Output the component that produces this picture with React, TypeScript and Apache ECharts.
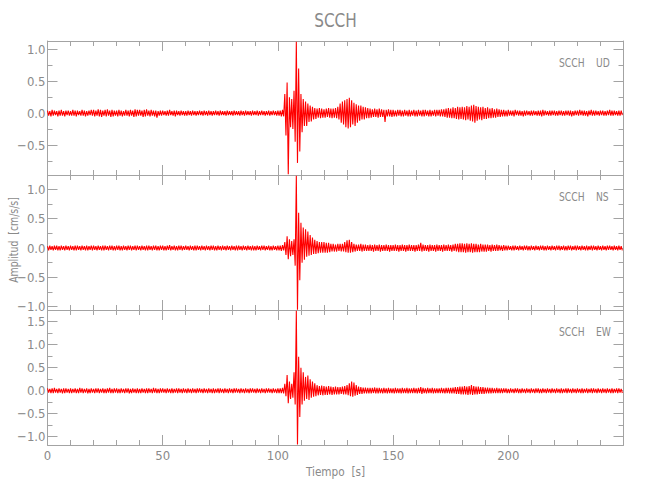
import React, { useEffect, useRef } from "react";
import * as echarts from "echarts";

// Seismogram amplitudes [cm/s/s], read from the picture as per-second envelopes:
// for second i, the largest (Max) and smallest (Min) value of the trace in that second.
const udMax = [
  0.04,0.03,0.05,0.04,0.03,0.04,0.05,0.03,0.04,0.04, 0.03,0.05,0.04,0.04,0.03,0.05,0.04,0.03,0.04,0.05,
  0.05,0.04,0.06,0.05,0.04,0.05,0.06,0.04,0.05,0.04, 0.04,0.05,0.04,0.03,0.05,0.04,0.05,0.04,0.06,0.05,
  0.05,0.04,0.05,0.06,0.04,0.05,0.04,0.04,0.03,0.04, 0.04,0.03,0.04,0.05,0.03,0.04,0.04,0.03,0.04,0.03,
  0.03,0.04,0.03,0.04,0.03,0.03,0.04,0.03,0.04,0.03, 0.04,0.03,0.03,0.04,0.03,0.04,0.03,0.03,0.04,0.03,
  0.03,0.04,0.03,0.03,0.04,0.03,0.04,0.03,0.03,0.04, 0.03,0.04,0.03,0.04,0.03,0.03,0.04,0.03,0.04,0.03,
  0.04,0.04,0.05,0.30,0.48,0.25,0.22,0.35,1.12,0.70, 0.30,0.22,0.18,0.15,0.12,0.10,0.08,0.07,0.08,0.07,
  0.06,0.07,0.08,0.07,0.07,0.08,0.10,0.15,0.18,0.20, 0.22,0.24,0.20,0.16,0.14,0.12,0.12,0.10,0.09,0.08,
  0.07,0.06,0.07,0.06,0.07,0.06,0.05,0.05,0.06,0.05, 0.05,0.04,0.05,0.05,0.04,0.05,0.04,0.05,0.04,0.05,
  0.04,0.05,0.04,0.05,0.05,0.04,0.05,0.04,0.05,0.05, 0.05,0.06,0.06,0.07,0.08,0.07,0.09,0.08,0.10,0.09,
  0.10,0.09,0.11,0.10,0.12,0.13,0.11,0.10,0.09,0.10, 0.08,0.09,0.07,0.08,0.06,0.07,0.06,0.05,0.05,0.04,
  0.05,0.04,0.04,0.05,0.04,0.04,0.03,0.04,0.04,0.03, 0.04,0.04,0.03,0.04,0.04,0.05,0.04,0.03,0.04,0.04,
  0.04,0.03,0.04,0.04,0.03,0.04,0.04,0.04,0.03,0.04, 0.04,0.05,0.04,0.04,0.03,0.04,0.05,0.04,0.04,0.03,
  0.04,0.04,0.03,0.04,0.05,0.04,0.04,0.03,0.04,0.04,
];
const udMin = [
  -0.04,-0.05,-0.04,-0.03,-0.05,-0.04,-0.04,-0.05,-0.03,-0.04, -0.04,-0.04,-0.05,-0.03,-0.04,-0.04,-0.05,-0.04,-0.03,-0.04,
  -0.05,-0.04,-0.05,-0.06,-0.04,-0.05,-0.04,-0.06,-0.05,-0.04, -0.05,-0.04,-0.05,-0.04,-0.04,-0.05,-0.04,-0.06,-0.05,-0.04,
  -0.04,-0.06,-0.05,-0.04,-0.05,-0.04,-0.05,-0.07,-0.04,-0.04, -0.03,-0.04,-0.04,-0.03,-0.04,-0.05,-0.03,-0.04,-0.03,-0.04,
  -0.04,-0.03,-0.04,-0.03,-0.04,-0.03,-0.03,-0.04,-0.03,-0.04, -0.03,-0.04,-0.03,-0.03,-0.04,-0.03,-0.03,-0.04,-0.03,-0.03,
  -0.04,-0.03,-0.03,-0.04,-0.03,-0.04,-0.03,-0.03,-0.04,-0.03, -0.03,-0.04,-0.03,-0.03,-0.04,-0.03,-0.04,-0.03,-0.03,-0.04,
  -0.04,-0.05,-0.05,-0.35,-0.96,-0.22,-0.25,-0.45,-0.78,-0.60, -0.30,-0.20,-0.20,-0.14,-0.13,-0.10,-0.09,-0.07,-0.08,-0.07,
  -0.07,-0.06,-0.07,-0.08,-0.07,-0.08,-0.10,-0.15,-0.18,-0.22, -0.24,-0.22,-0.18,-0.20,-0.15,-0.12,-0.10,-0.10,-0.08,-0.08,
  -0.07,-0.06,-0.06,-0.07,-0.06,-0.06,-0.14,-0.05,-0.05,-0.06, -0.05,-0.05,-0.04,-0.05,-0.05,-0.04,-0.05,-0.05,-0.04,-0.05,
  -0.05,-0.04,-0.05,-0.05,-0.04,-0.05,-0.05,-0.04,-0.05,-0.04, -0.05,-0.05,-0.06,-0.07,-0.07,-0.08,-0.08,-0.09,-0.10,-0.09,
  -0.10,-0.11,-0.10,-0.12,-0.13,-0.15,-0.12,-0.10,-0.11,-0.09, -0.09,-0.08,-0.08,-0.07,-0.07,-0.06,-0.06,-0.05,-0.05,-0.05,
  -0.04,-0.04,-0.05,-0.03,-0.04,-0.04,-0.05,-0.04,-0.03,-0.04, -0.04,-0.03,-0.04,-0.04,-0.05,-0.04,-0.03,-0.04,-0.04,-0.03,
  -0.04,-0.04,-0.03,-0.04,-0.04,-0.03,-0.04,-0.05,-0.04,-0.03, -0.04,-0.03,-0.04,-0.04,-0.05,-0.03,-0.04,-0.04,-0.03,-0.04,
  -0.03,-0.04,-0.04,-0.03,-0.04,-0.04,-0.03,-0.04,-0.04,-0.03,
];
const nsMax = [
  0.03,0.04,0.03,0.04,0.04,0.03,0.04,0.03,0.04,0.03, 0.04,0.03,0.04,0.04,0.03,0.04,0.03,0.04,0.03,0.04,
  0.04,0.03,0.04,0.03,0.04,0.04,0.03,0.04,0.04,0.03, 0.04,0.04,0.03,0.04,0.03,0.04,0.04,0.03,0.04,0.04,
  0.03,0.04,0.03,0.04,0.04,0.03,0.04,0.04,0.03,0.04, 0.04,0.03,0.04,0.05,0.03,0.04,0.03,0.04,0.04,0.03,
  0.04,0.03,0.04,0.03,0.04,0.04,0.03,0.04,0.03,0.04, 0.03,0.04,0.04,0.03,0.04,0.03,0.04,0.03,0.04,0.03,
  0.04,0.03,0.04,0.04,0.03,0.04,0.03,0.04,0.03,0.04, 0.03,0.04,0.03,0.04,0.04,0.03,0.04,0.03,0.04,0.03,
  0.04,0.04,0.05,0.10,0.20,0.15,0.12,0.15,1.23,0.60, 0.43,0.35,0.32,0.28,0.22,0.18,0.14,0.12,0.10,0.10,
  0.10,0.09,0.09,0.07,0.07,0.06,0.07,0.07,0.07,0.10, 0.13,0.14,0.10,0.07,0.06,0.06,0.07,0.06,0.06,0.05,
  0.06,0.05,0.06,0.05,0.06,0.05,0.05,0.06,0.05,0.05, 0.05,0.06,0.05,0.05,0.06,0.05,0.05,0.06,0.05,0.05,
  0.05,0.06,0.09,0.06,0.05,0.05,0.06,0.05,0.05,0.06, 0.05,0.05,0.06,0.05,0.06,0.05,0.06,0.07,0.07,0.08,
  0.08,0.07,0.08,0.07,0.08,0.07,0.07,0.06,0.07,0.06, 0.06,0.06,0.05,0.06,0.05,0.06,0.05,0.04,0.05,0.04,
  0.04,0.03,0.04,0.04,0.03,0.04,0.03,0.04,0.04,0.03, 0.04,0.03,0.04,0.03,0.04,0.04,0.03,0.04,0.03,0.04,
  0.03,0.04,0.04,0.03,0.04,0.03,0.04,0.04,0.03,0.04, 0.04,0.03,0.04,0.03,0.04,0.03,0.04,0.04,0.03,0.04,
  0.03,0.04,0.03,0.04,0.04,0.03,0.04,0.03,0.04,0.03,
];
const nsMin = [
  -0.04,-0.03,-0.04,-0.03,-0.04,-0.04,-0.03,-0.04,-0.03,-0.04, -0.03,-0.04,-0.04,-0.03,-0.04,-0.03,-0.04,-0.04,-0.03,-0.04,
  -0.03,-0.04,-0.03,-0.04,-0.04,-0.03,-0.04,-0.03,-0.04,-0.04, -0.03,-0.04,-0.04,-0.03,-0.04,-0.03,-0.04,-0.03,-0.04,-0.03,
  -0.04,-0.03,-0.04,-0.04,-0.03,-0.04,-0.03,-0.04,-0.04,-0.03, -0.04,-0.04,-0.03,-0.04,-0.03,-0.04,-0.04,-0.03,-0.04,-0.03,
  -0.03,-0.04,-0.03,-0.04,-0.04,-0.03,-0.04,-0.03,-0.04,-0.03, -0.04,-0.03,-0.04,-0.04,-0.03,-0.04,-0.03,-0.04,-0.03,-0.04,
  -0.03,-0.04,-0.04,-0.03,-0.04,-0.03,-0.04,-0.03,-0.04,-0.04, -0.04,-0.03,-0.04,-0.03,-0.04,-0.03,-0.04,-0.04,-0.03,-0.04,
  -0.04,-0.05,-0.04,-0.12,-0.19,-0.14,-0.12,-0.30,-1.05,-0.55, -0.25,-0.20,-0.15,-0.13,-0.12,-0.10,-0.10,-0.09,-0.08,-0.08,
  -0.08,-0.08,-0.07,-0.06,-0.06,-0.06,-0.05,-0.06,-0.06,-0.07, -0.08,-0.08,-0.07,-0.06,-0.05,-0.05,-0.06,-0.05,-0.05,-0.05,
  -0.05,-0.06,-0.05,-0.05,-0.06,-0.05,-0.05,-0.05,-0.06,-0.05, -0.05,-0.05,-0.06,-0.05,-0.05,-0.06,-0.05,-0.05,-0.05,-0.06,
  -0.05,-0.05,-0.06,-0.05,-0.05,-0.06,-0.05,-0.05,-0.06,-0.05, -0.05,-0.06,-0.05,-0.05,-0.05,-0.06,-0.05,-0.06,-0.07,-0.07,
  -0.07,-0.08,-0.07,-0.07,-0.08,-0.07,-0.07,-0.07,-0.06,-0.06, -0.06,-0.05,-0.06,-0.05,-0.05,-0.05,-0.04,-0.05,-0.04,-0.04,
  -0.03,-0.04,-0.04,-0.03,-0.04,-0.03,-0.04,-0.03,-0.04,-0.04, -0.03,-0.04,-0.03,-0.04,-0.03,-0.04,-0.04,-0.03,-0.04,-0.03,
  -0.04,-0.03,-0.04,-0.03,-0.04,-0.04,-0.03,-0.04,-0.03,-0.04, -0.03,-0.04,-0.03,-0.04,-0.04,-0.03,-0.04,-0.03,-0.04,-0.03,
  -0.04,-0.03,-0.04,-0.03,-0.03,-0.04,-0.03,-0.04,-0.03,-0.04,
];
const ewMax = [
  0.05,0.04,0.05,0.06,0.04,0.05,0.04,0.05,0.05,0.04, 0.05,0.04,0.05,0.04,0.06,0.05,0.04,0.05,0.04,0.05,
  0.04,0.05,0.05,0.04,0.05,0.04,0.05,0.06,0.04,0.05, 0.05,0.04,0.05,0.04,0.05,0.05,0.04,0.05,0.04,0.05,
  0.04,0.05,0.04,0.05,0.05,0.04,0.06,0.05,0.04,0.05, 0.05,0.04,0.05,0.04,0.05,0.04,0.05,0.05,0.04,0.05,
  0.04,0.05,0.04,0.05,0.04,0.05,0.05,0.04,0.05,0.04, 0.05,0.04,0.05,0.04,0.05,0.05,0.04,0.05,0.04,0.05,
  0.04,0.05,0.05,0.04,0.05,0.04,0.05,0.04,0.05,0.05, 0.04,0.05,0.04,0.05,0.04,0.05,0.05,0.04,0.05,0.04,
  0.05,0.05,0.06,0.15,0.34,0.20,0.15,0.40,1.74,0.74, 0.50,0.40,0.30,0.33,0.25,0.20,0.16,0.12,0.10,0.11,
  0.10,0.09,0.10,0.09,0.08,0.09,0.08,0.08,0.09,0.10, 0.12,0.16,0.20,0.18,0.12,0.09,0.08,0.07,0.07,0.06,
  0.06,0.06,0.07,0.06,0.06,0.05,0.06,0.05,0.06,0.05, 0.05,0.06,0.05,0.05,0.06,0.05,0.06,0.05,0.05,0.06,
  0.05,0.06,0.08,0.06,0.05,0.06,0.05,0.06,0.05,0.05, 0.05,0.06,0.05,0.06,0.06,0.06,0.07,0.08,0.08,0.09,
  0.09,0.10,0.09,0.10,0.12,0.10,0.09,0.09,0.08,0.08, 0.07,0.07,0.06,0.06,0.05,0.06,0.05,0.05,0.05,0.05,
  0.04,0.05,0.04,0.05,0.05,0.04,0.05,0.04,0.05,0.04, 0.05,0.04,0.05,0.05,0.04,0.05,0.04,0.05,0.04,0.05,
  0.04,0.05,0.04,0.05,0.04,0.05,0.05,0.04,0.05,0.04, 0.05,0.04,0.05,0.04,0.05,0.04,0.05,0.05,0.04,0.05,
  0.04,0.05,0.04,0.05,0.04,0.05,0.04,0.05,0.05,0.04,
];
const ewMin = [
  -0.04,-0.05,-0.05,-0.04,-0.05,-0.04,-0.06,-0.05,-0.04,-0.05, -0.05,-0.04,-0.05,-0.05,-0.04,-0.05,-0.04,-0.06,-0.05,-0.04,
  -0.05,-0.04,-0.05,-0.04,-0.05,-0.05,-0.04,-0.05,-0.05,-0.04, -0.05,-0.05,-0.04,-0.05,-0.04,-0.06,-0.05,-0.04,-0.05,-0.05,
  -0.05,-0.04,-0.05,-0.05,-0.04,-0.05,-0.04,-0.05,-0.05,-0.04, -0.04,-0.05,-0.04,-0.05,-0.05,-0.04,-0.05,-0.04,-0.05,-0.04,
  -0.05,-0.04,-0.05,-0.04,-0.05,-0.04,-0.04,-0.05,-0.04,-0.05, -0.04,-0.05,-0.05,-0.04,-0.05,-0.04,-0.05,-0.04,-0.05,-0.04,
  -0.05,-0.04,-0.04,-0.05,-0.04,-0.05,-0.04,-0.05,-0.04,-0.04, -0.05,-0.04,-0.05,-0.04,-0.05,-0.04,-0.04,-0.05,-0.04,-0.05,
  -0.05,-0.05,-0.06,-0.12,-0.27,-0.18,-0.15,-0.30,-1.17,-0.57, -0.30,-0.22,-0.18,-0.20,-0.15,-0.13,-0.12,-0.10,-0.09,-0.10,
  -0.09,-0.09,-0.08,-0.09,-0.08,-0.08,-0.08,-0.07,-0.08,-0.08, -0.10,-0.12,-0.13,-0.11,-0.09,-0.07,-0.07,-0.06,-0.06,-0.06,
  -0.06,-0.05,-0.06,-0.06,-0.05,-0.06,-0.05,-0.06,-0.05,-0.05, -0.06,-0.05,-0.05,-0.06,-0.05,-0.05,-0.06,-0.05,-0.05,-0.05,
  -0.06,-0.05,-0.07,-0.05,-0.06,-0.05,-0.05,-0.06,-0.05,-0.05, -0.05,-0.05,-0.06,-0.05,-0.06,-0.06,-0.06,-0.07,-0.07,-0.08,
  -0.08,-0.08,-0.09,-0.08,-0.09,-0.08,-0.08,-0.07,-0.07,-0.07, -0.06,-0.06,-0.06,-0.05,-0.05,-0.05,-0.05,-0.05,-0.04,-0.05,
  -0.05,-0.04,-0.05,-0.04,-0.05,-0.05,-0.04,-0.05,-0.04,-0.05, -0.04,-0.05,-0.04,-0.05,-0.05,-0.04,-0.05,-0.04,-0.05,-0.04,
  -0.05,-0.04,-0.05,-0.05,-0.04,-0.05,-0.04,-0.05,-0.04,-0.05, -0.04,-0.05,-0.05,-0.04,-0.05,-0.04,-0.05,-0.04,-0.05,-0.04,
  -0.05,-0.04,-0.05,-0.04,-0.05,-0.05,-0.04,-0.05,-0.04,-0.05,
];

const stationName = "SCCH";
const componentNames = ["UD", "NS", "EW"];
const yRanges: [number, number][] = [[-0.97, 1.13], [-1.056, 1.244], [-1.18, 1.754]];
const yMajorTicks = [[-0.5, 0, 0.5, 1.0], [-1.0, -0.5, 0, 0.5, 1.0], [-1.0, -0.5, 0, 0.5, 1.0, 1.5]];
const yMinorTicks = [[-0.75, -0.25, 0.25, 0.75], [-0.75, -0.25, 0.25, 0.75], [-0.75, -0.25, 0.25, 0.75, 1.25]];
const xTicks = [0, 50, 100, 150, 200];
const timeRange: [number, number] = [0, 250];

const FONT = "'Liberation Sans Narrow', 'DejaVu Sans Condensed', 'Liberation Sans', sans-serif";
const AXIS = "#a3a3a3";
const TEXT = "#8a8a8a";

function App() {
  const ref = useRef<HTMLDivElement>(null);
  useEffect(() => {
    if (!ref.current) return;
    const chart = echarts.init(ref.current, undefined, { renderer: "svg" });
    const traces = [[udMax, udMin], [nsMax, nsMin], [ewMax, ewMin]];
    const grids = [
      { left: 47.5, top: 41, width: 576, height: 134 },
      { left: 47.5, top: 175, width: 576, height: 135 },
      { left: 47.5, top: 310, width: 576, height: 135 },
    ];
    const xAxes: any[] = [];
    const yAxes: any[] = [];
    const series: any[] = [];
    grids.forEach((g, p) => {
      ["bottom", "top"].forEach((pos) => {
        xAxes.push({
          type: "value", gridIndex: p, position: pos, min: timeRange[0], max: timeRange[1], interval: 50,
          axisLine: { show: true, onZero: false, lineStyle: { color: AXIS, width: 1 } },
          axisTick: { show: true, inside: true, length: 10, lineStyle: { color: AXIS } },
          minorTick: { show: true, splitNumber: 5, length: 5, lineStyle: { color: AXIS } },
          splitLine: { show: false },
          axisLabel: {
            show: p === 2 && pos === "bottom", showMaxLabel: false, margin: 4,
            color: TEXT, fontFamily: FONT, fontSize: 13,
            formatter: (v: number) => (xTicks.includes(v) ? String(v) : ""),
          },
        });
      });
      const [mn, mx] = yRanges[p];
      ["left", "right"].forEach((pos) => {
        yAxes.push({
          type: "value", gridIndex: p, position: pos, min: mn, max: mx,
          axisLine: { show: true, onZero: false, lineStyle: { color: AXIS, width: 1 } },
          axisTick: { show: true, inside: true, length: 10, customValues: yMajorTicks[p], lineStyle: { color: AXIS } },
          splitLine: { show: false },
          axisLabel: {
            show: pos === "left", customValues: yMajorTicks[p], margin: 2,
            color: TEXT, fontFamily: FONT, fontSize: 13,
            formatter: (v: number) => (v < 0 ? "\u2212" : "") + Math.abs(v).toFixed(1),
          },
        });
        yAxes.push({
          type: "value", gridIndex: p, position: pos, min: mn, max: mx,
          axisLine: { show: false, onZero: false },
          axisTick: { show: true, inside: true, length: 5, customValues: yMinorTicks[p], lineStyle: { color: AXIS } },
          splitLine: { show: false },
          axisLabel: { show: false },
        });
      });
      const [hi, lo] = traces[p];
      const data: number[][] = [];
      hi.forEach((v, i) => {
        data.push([i, v]);
        data.push([i + 0.5, lo[i]]);
      });
      series.push({
        type: "line", xAxisIndex: p * 2, yAxisIndex: p * 4, data,
        symbol: "none", showSymbol: false, silent: true, clip: true,
        lineStyle: { color: "#ff0000", width: 1.1 },
      });
    });

    const graphic: any[] = [
      {
        type: "text", x: 335.5, y: 20, scaleX: 0.85,
        style: { text: stationName, fill: TEXT, font: `20px ${FONT}`, textAlign: "center", textVerticalAlign: "middle" },
      },
      {
        type: "text", x: 335.5, y: 472, scaleX: 0.9,
        style: { text: "Tiempo  [s]", fill: TEXT, font: `13px ${FONT}`, textAlign: "center", textVerticalAlign: "middle" },
      },
      {
        type: "text", x: 13.5, y: 240, rotation: Math.PI / 2, scaleX: 0.8,
        style: { text: "Amplitud  [cm/s/s]", fill: TEXT, font: `13px ${FONT}`, textAlign: "center", textVerticalAlign: "middle" },
      },
    ];
    grids.forEach((g, p) => {
      graphic.push({
        type: "text", x: 559, y: g.top + 22, scaleX: 0.85,
        style: { text: stationName, fill: TEXT, font: `12px ${FONT}`, textAlign: "left", textVerticalAlign: "middle" },
      });
      graphic.push({
        type: "text", x: 596, y: g.top + 22, scaleX: 0.85,
        style: { text: componentNames[p], fill: TEXT, font: `12px ${FONT}`, textAlign: "left", textVerticalAlign: "middle" },
      });
    });

    chart.setOption({
      animation: false,
      backgroundColor: "#ffffff",
      grid: grids,
      xAxis: xAxes,
      yAxis: yAxes,
      series,
      graphic,
    });
    return () => chart.dispose();
  }, []);
  return (
    <div
      ref={ref}
      style={{ position: "fixed", left: 0, top: 0, width: 650, height: 500, background: "#fff" }}
    />
  );
}

export default App;
